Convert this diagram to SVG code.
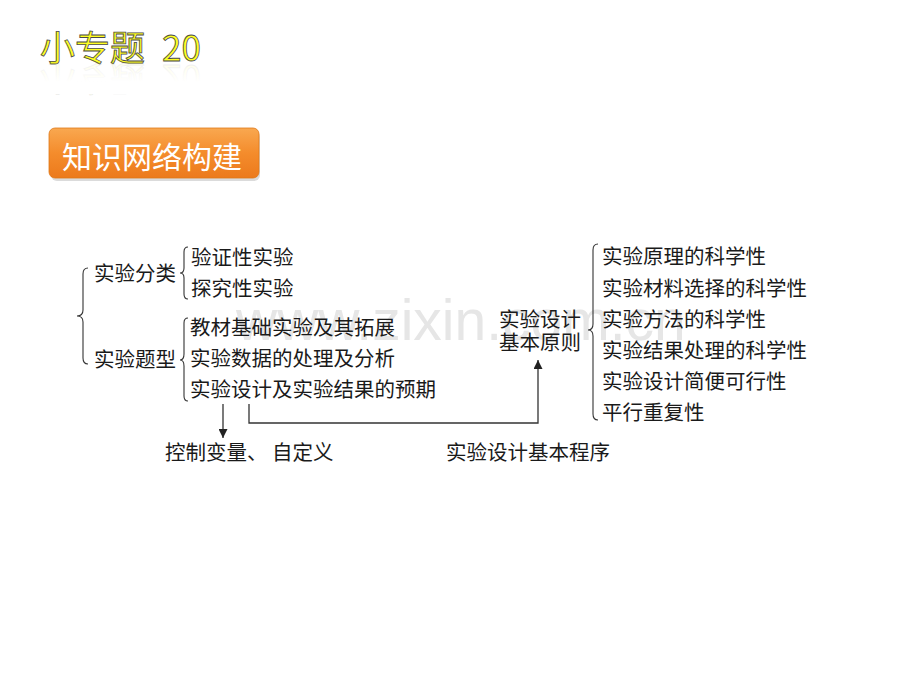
<svg xmlns="http://www.w3.org/2000/svg" width="920" height="690" viewBox="0 0 920 690">
<defs>
<style>
.t{font-family:"Noto Sans CJK SC","Noto Sans CJK JP",sans-serif;font-size:20.5px;fill:#1a1a1a;}
.br{fill:none;stroke:#333;stroke-width:1.1;}
.ln{fill:none;stroke:#333;stroke-width:1.3;}
.wm{font-family:"Liberation Sans",Arial,sans-serif;font-size:57px;fill:#e6e6e6;}
</style>
<linearGradient id="og" x1="0" y1="0" x2="0" y2="1">
<stop offset="0" stop-color="#F9A850"/>
<stop offset="0.5" stop-color="#F48C2C"/>
<stop offset="1" stop-color="#EC7A1C"/>
</linearGradient>
<linearGradient id="rf" x1="0" y1="0" x2="0" y2="1">
<stop offset="0" stop-color="#fff" stop-opacity="0.2"/>
<stop offset="0.6" stop-color="#fff" stop-opacity="1"/>
</linearGradient>
<marker id="ah" viewBox="0 0 10 10" refX="10" refY="5" markerWidth="9" markerHeight="9" markerUnits="userSpaceOnUse" orient="auto">
<path d="M0,0 L10,5 L0,10 Z" fill="#222"/>
</marker>
</defs>
<rect width="920" height="690" fill="#fff"/>

<g id="title">
<text id="ttl" x="40" y="61" font-family="Noto Sans CJK SC,sans-serif" font-size="35" fill="#FFFF22" stroke="#4a4a4a" stroke-width="0.8">小专题<tspan x="162">20</tspan></text>
<use href="#ttl" transform="translate(0,126) scale(1,-1)" opacity="0.1"/>
<rect x="30" y="64" width="200" height="30" fill="url(#rf)"/>
</g>

<g id="header">
<rect x="51" y="131" width="209" height="50" rx="6" fill="#999" opacity="0.35"/>
<rect x="49" y="128" width="210" height="50" rx="6" fill="url(#og)" stroke="#E07818" stroke-width="0.8"/>
<text x="62" y="168" font-family="Noto Sans CJK SC,sans-serif" font-size="30" fill="#fff">知识网络构建</text>
</g>

<text class="wm" x="236" y="340">www.zixin.com.cn</text>

<g id="connectors">
<path class="br" d="M88,268 Q83,268 83,274 L83,310 Q83,316 77,316 Q83,316 83,322 L83,358 Q83,364 88,364"/>
<path class="br" d="M188,247 Q184,247 184,252 L184,268 Q184,273 180,273 Q184,273 184,278 L184,294 Q184,299 188,299"/>
<path class="br" d="M188,318 Q184,318 184,323 L184,354 Q184,360 180,360 Q184,360 184,366 L184,396 Q184,401 188,401"/>
<path class="br" d="M598,244 Q593,244 593,250 L593,324 Q593,330 588,330 Q593,330 593,336 L593,414 Q593,420 598,420"/>
<path class="ln" d="M223,404 L223,438" marker-end="url(#ah)"/>
<path class="ln" d="M249,404 L249,423 L538,423 L538,360" marker-end="url(#ah)"/>
</g>

<g id="n-fenlei"><text class="t" x="94" y="281">实验分类</text></g>
<g id="n-yanzheng"><text class="t" x="191" y="265">验证性实验</text></g>
<g id="n-tanjiu"><text class="t" x="191" y="296">探究性实验</text></g>
<g id="n-tixing"><text class="t" x="94" y="367">实验题型</text></g>
<g id="n-jiaocai"><text class="t" x="190" y="335">教材基础实验及其拓展</text></g>
<g id="n-shuju"><text class="t" x="190" y="366">实验数据的处理及分析</text></g>
<g id="n-sheji"><text class="t" x="190" y="397">实验设计及实验结果的预期</text></g>
<g id="n-kongzhi"><text class="t" x="165" y="460">控制变量、 自定义</text></g>
<g id="n-chengxu"><text class="t" x="446" y="460">实验设计基本程序</text></g>
<g id="n-yuanze"><text class="t" x="499" y="327">实验设计</text><text class="t" x="499" y="350">基本原则</text></g>
<g id="n-r1"><text class="t" x="602" y="264">实验原理的科学性</text></g>
<g id="n-r2"><text class="t" x="602" y="296">实验材料选择的科学性</text></g>
<g id="n-r3"><text class="t" x="602" y="327">实验方法的科学性</text></g>
<g id="n-r4"><text class="t" x="602" y="358">实验结果处理的科学性</text></g>
<g id="n-r5"><text class="t" x="602" y="389">实验设计简便可行性</text></g>
<g id="n-r6"><text class="t" x="602" y="420">平行重复性</text></g>
</svg>
